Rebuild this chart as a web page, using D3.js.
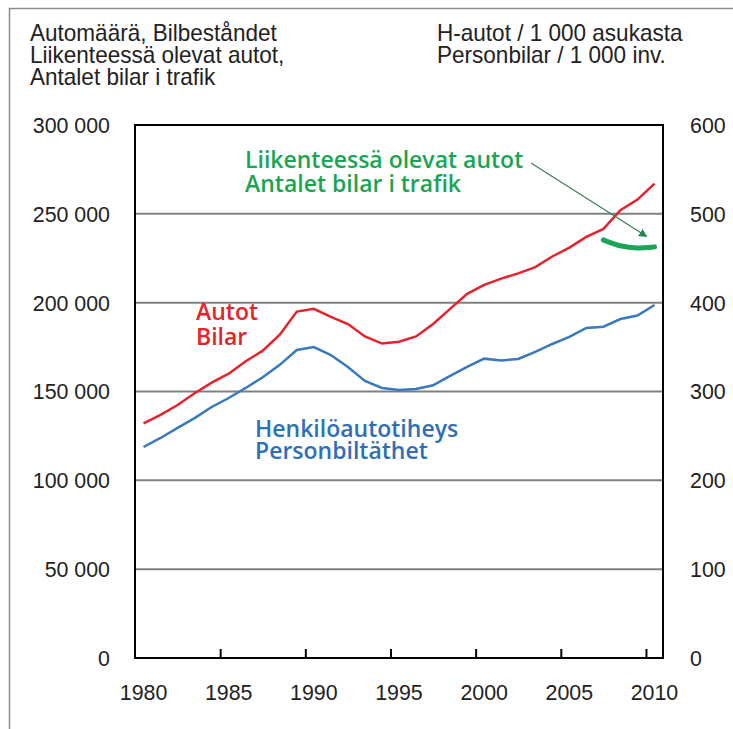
<!DOCTYPE html>
<html>
<head>
<meta charset="utf-8">
<script src="https://cdn.jsdelivr.net/npm/d3@7"></script>
<style>
  body { margin: 0; background: #fff; }
  .tick text, .title { font-family: "Liberation Sans", Arial, sans-serif; font-size: 23px; fill: #222; }
  .label { font-family: "Open Sans", sans-serif; font-weight: 600; font-size: 23px; }
</style>
</head>
<body>
<div id="chart"></div>
<script>
//Chart values
var years = [1980, 1981, 1982, 1983, 1984, 1985, 1986, 1987, 1988, 1989,
    1990, 1991, 1992, 1993, 1994, 1995, 1996, 1997, 1998, 1999,
    2000, 2001, 2002, 2003, 2004, 2005, 2006, 2007, 2008, 2009, 2010];

//Autot / Bilar (left axis)
var carValues = [132000, 136800, 142400, 149000, 155000, 160000, 167000, 173000, 182000, 195000,
    196500, 192000, 188000, 181000, 177000, 178000, 181000, 188000, 196500, 205000,
    210000, 213500, 216500, 220000, 226000, 231000, 237000, 241500, 252000, 258000, 267000];

//Henkilöautotiheys / Personbiltäthet (right axis)
var densityValues = [237.5, 247.7, 259, 270, 282.6, 292.7, 304, 316, 330, 346.7,
    350, 341, 327.6, 311.8, 304, 301.7, 302.8, 307, 317.5, 327.6,
    337, 335, 336.6, 344.5, 353.5, 361.4, 371.5, 373, 381.6, 385.6, 397.4];

//Liikenteessä olevat autot / Antalet bilar i trafik (left axis)
var trafficYears = [2007, 2008, 2009, 2010];
var trafficValues = [235300, 231600, 230500, 231400];

var leftTicks = [0, 50000, 100000, 150000, 200000, 250000, 300000];
var rightTicks = [0, 100, 200, 300, 400, 500, 600];
var yearLabels = [1980, 1985, 1990, 1995, 2000, 2005, 2010];
var yearTicks = [1984.5, 1989.5, 1994.5, 1999.5, 2004.5, 2009.5];

//Create SVG dimensions
var svgWidth = 733;
var svgHeight = 729;

var margin = {
    top: 125,
    right: 70,
    bottom: 71,
    left: 135
};

var width = svgWidth - margin.left - margin.right;
var height = svgHeight - margin.top - margin.bottom;

//Squeeze text horizontally around its own anchor point (narrow font look)
function narrow(sel, k) {
    sel.each(function() {
        var t = d3.select(this);
        var x = +t.attr("x") || 0;
        t.attr("transform", `translate(${x},0) scale(${k},1) translate(${-x},0)`);
    });
}

var svg = d3.select("#chart")
    .append("svg")
    .attr("width", svgWidth)
    .attr("height", svgHeight);

//Outer frame (cut off at right and bottom)
svg.append("path")
    .attr("d", "M9.5,740 V8.5 H740")
    .attr("fill", "none")
    .attr("stroke", "#8c8c8c")
    .attr("stroke-width", 1.5);

//Titles
var leftTitle = ["Automäärä, Bilbeståndet", "Liikenteessä olevat autot,", "Antalet bilar i trafik"];
var rightTitle = ["H-autot / 1 000 asukasta", "Personbilar / 1 000 inv."];

svg.selectAll(".ltitle")
    .data(leftTitle)
    .enter()
    .append("text")
    .attr("class", "title ltitle")
    .attr("x", 30)
    .attr("y", (d, i) => 41 + i * 22)
    .text(d => d)
    .call(narrow, 0.98);

svg.selectAll(".rtitle")
    .data(rightTitle)
    .enter()
    .append("text")
    .attr("class", "title rtitle")
    .attr("x", 437)
    .attr("y", (d, i) => 41 + i * 22)
    .text(d => d)
    .call(narrow, 0.98);

var chartGroup = svg.append("g")
    .attr("transform", `translate(${margin.left}, ${margin.top})`);

//Scales
var xScale = d3.scaleLinear()
    .domain([1979.5, 2010.5])
    .range([0, width]);

var yLeft = d3.scaleLinear()
    .domain([0, 300000])
    .range([height, 0]);

var yRight = d3.scaleLinear()
    .domain([0, 600])
    .range([height, 0]);

//Gridlines
chartGroup.selectAll(".grid")
    .data(leftTicks.slice(1, -1))
    .enter()
    .append("line")
    .attr("x1", 0)
    .attr("x2", width)
    .attr("y1", d => yLeft(d))
    .attr("y2", d => yLeft(d))
    .attr("stroke", "#808080")
    .attr("stroke-width", 2);

//Axes
var fmt = d => d3.format(",")(d).replace(/,/g, " ");

var leftAxis = d3.axisLeft(yLeft)
    .tickValues(leftTicks)
    .tickSize(0)
    .tickPadding(25)
    .tickFormat(fmt);

var rightAxis = d3.axisRight(yRight)
    .tickValues(rightTicks)
    .tickSize(0)
    .tickPadding(27);

var bottomAxis = d3.axisBottom(xScale)
    .tickValues(yearTicks)
    .tickSize(-9)
    .tickFormat("");

var lAxis = chartGroup.append("g")
    .call(leftAxis);

var rAxis = chartGroup.append("g")
    .attr("transform", `translate(${width}, 0)`)
    .call(rightAxis);

var bAxis = chartGroup.append("g")
    .attr("transform", `translate(0, ${height})`)
    .call(bottomAxis);

[lAxis, rAxis].forEach(a => {
    a.select(".domain").remove();
    a.selectAll("text").attr("font-size", null).call(narrow, 0.93);
});
bAxis.select(".domain").remove();
bAxis.selectAll("line").attr("stroke", "#000").attr("stroke-width", 2);

//Year labels
chartGroup.selectAll(".year")
    .data(yearLabels)
    .enter()
    .append("text")
    .attr("class", "title")
    .attr("x", d => xScale(d))
    .attr("y", height + 42)
    .attr("text-anchor", "middle")
    .text(d => d)
    .call(narrow, 0.93);

//Lines
var carLine = d3.line()
    .x((d, i) => xScale(years[i]))
    .y(d => yLeft(d));

var densityLine = d3.line()
    .x((d, i) => xScale(years[i]))
    .y(d => yRight(d));

var trafficLine = d3.line()
    .x((d, i) => xScale(trafficYears[i]))
    .y(d => yLeft(d))
    .curve(d3.curveBasis);

chartGroup.append("path")
    .datum(densityValues)
    .attr("d", densityLine)
    .attr("fill", "none")
    .attr("stroke", "#3a78c0")
    .attr("stroke-width", 2.5);

chartGroup.append("path")
    .datum(carValues)
    .attr("d", carLine)
    .attr("fill", "none")
    .attr("stroke", "#e8222c")
    .attr("stroke-width", 2.5);

chartGroup.append("path")
    .datum(trafficValues)
    .attr("d", trafficLine)
    .attr("fill", "none")
    .attr("stroke", "#1aa552")
    .attr("stroke-width", 5)
    .attr("stroke-linecap", "round");

//Plot frame
chartGroup.append("rect")
    .attr("width", width)
    .attr("height", height)
    .attr("fill", "none")
    .attr("stroke", "#000")
    .attr("stroke-width", 2);

//Series labels, one text element per label with a line per tspan
function addLabel(lines, x, y, dy, color) {
    chartGroup.append("text")
        .attr("class", "label")
        .attr("fill", color)
        .selectAll("tspan")
        .data(lines)
        .enter()
        .append("tspan")
        .attr("x", x)
        .attr("y", (d, i) => y + i * dy)
        .text(d => d);
}

addLabel(["Autot", "Bilar"], 61, 195, 25, "#e8222c");
addLabel(["Henkilöautotiheys", "Personbiltäthet"], 120, 312, 22, "#2f6fb8");
addLabel(["Liikenteessä olevat autot", "Antalet bilar i trafik"], 110, 43, 24, "#1aa552");

//Arrow from the green label to the traffic line
svg.append("defs").append("marker")
    .attr("id", "arrow")
    .attr("viewBox", "0 0 10 10")
    .attr("refX", 8)
    .attr("refY", 5)
    .attr("markerWidth", 7)
    .attr("markerHeight", 7)
    .attr("orient", "auto")
    .append("path")
    .attr("d", "M0,0 L10,5 L0,10 z")
    .attr("fill", "#1e8a4a");

chartGroup.append("line")
    .attr("x1", 396)
    .attr("y1", 38)
    .attr("x2", xScale(2009.5))
    .attr("y2", yLeft(237500))
    .attr("stroke", "#3d7d55")
    .attr("stroke-width", 1.2)
    .attr("marker-end", "url(#arrow)");
</script>
</body>
</html>
